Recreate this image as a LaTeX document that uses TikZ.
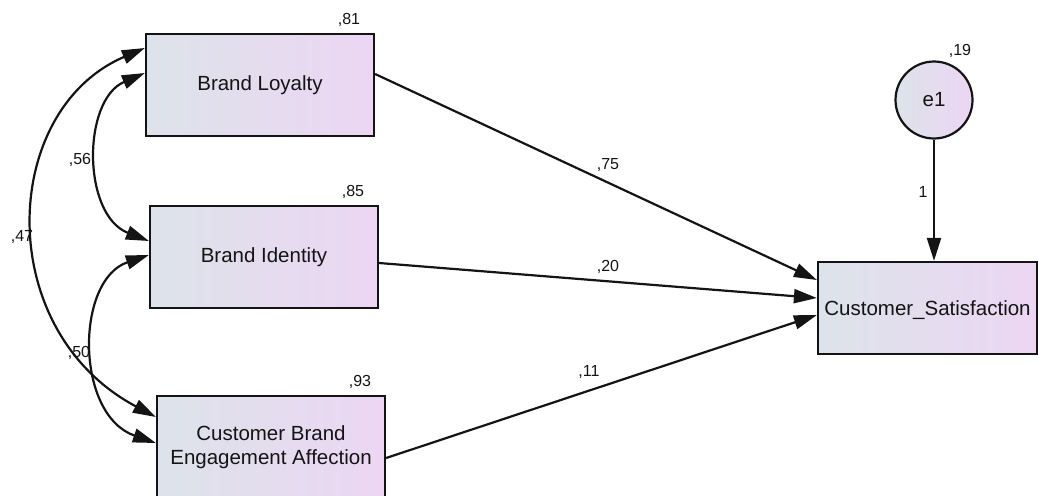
\documentclass[tikz,border=0pt]{standalone}
\usepackage{fontspec}
\setmainfont{Liberation Sans}
\usetikzlibrary{arrows.meta,calc}
\definecolor{gl}{RGB}{221,227,234}
\definecolor{gr}{RGB}{236,214,243}
\definecolor{ink}{RGB}{20,20,20}
\begin{document}
\begin{tikzpicture}[x=1pt,y=-1pt,
  var/.style={draw=ink, line width=2.2pt, left color=gl, right color=gr,
    minimum width=228pt, minimum height=102pt, inner sep=0pt, align=center,
    font=\fontsize{20.5}{24}\selectfont, text=ink},
  lab/.style={font=\fontsize{16}{18}\selectfont, text=ink, inner sep=0pt},
  reg/.style={line width=2.2pt, draw=ink, -{Triangle[length=23pt,width=14pt]}},
  cov/.style={line width=2.2pt, draw=ink,
    {Triangle[length=23pt,width=14pt]}-{Triangle[length=23pt,width=14pt]}}]
\useasboundingbox (0,0) rectangle (1038,495);
\clip (0,0) rectangle (1038,495);
% variables
\node[var] (BL) at (260,85) {Brand Loyalty};
\node[var] (BI) at (264,257) {Brand Identity};
\node[var] (CB) at (271,447) {Customer Brand\\Engagement Affection};
\node[var, minimum width=219pt, minimum height=92pt, text depth=-6pt] (CS) at (927.5,308) {Customer\_Satisfaction};
\node[circle, draw=ink, line width=2.2pt, left color=gl, right color=gr,
  minimum size=77pt, inner sep=0pt, font=\fontsize{20.5}{24}\selectfont, text=ink] (e1) at (934,100) {e1};
% variance labels
\node[lab] (v81) at (349,20) {,81};
\node[lab] (v85) at (353,192) {,85};
\node[lab] (v93) at (360,382) {,93};
\node[lab] (v19) at (960,51) {,19};
% regression paths
\draw[reg] ($(BL.east)+(0,-11)$) -- ($(CS.west)+(0,-28)$);
\draw[reg] ($(BI.east)+(0,6)$) -- ($(CS.west)+(0,-10)$);
\draw[reg] ($(CB.east)+(0,11)$) -- ($(CS.west)+(0,7)$);
\draw[reg] (e1.south) -- (e1.south |- CS.north);
\node[lab] (p75) at (608,165) {,75};
\node[lab] (p20) at (608,267) {,20};
\node[lab] (p11) at (589,372) {,11};
\node[lab] (p1) at (923,192) {1};
% covariances
\draw[cov] ($(BL.west)+(0,-12)$) .. controls (82,100) and (82,215) .. ($(BI.west)+(0,-16)$);
\draw[cov] ($(BL.west)+(0,-37)$) .. controls (0,110) and (-8,330) .. ($(CB.west)+(0,-30)$);
\draw[cov] ($(BI.west)+(0,-2)$) .. controls (75,280) and (75,415) .. ($(CB.west)+(0,-4)$);
\node[lab] (c56) at (80,160) {,56};
\node[lab] (c47) at (22,237) {,47};
\node[lab] (c50) at (79,353) {,50};
\end{tikzpicture}
\end{document}
